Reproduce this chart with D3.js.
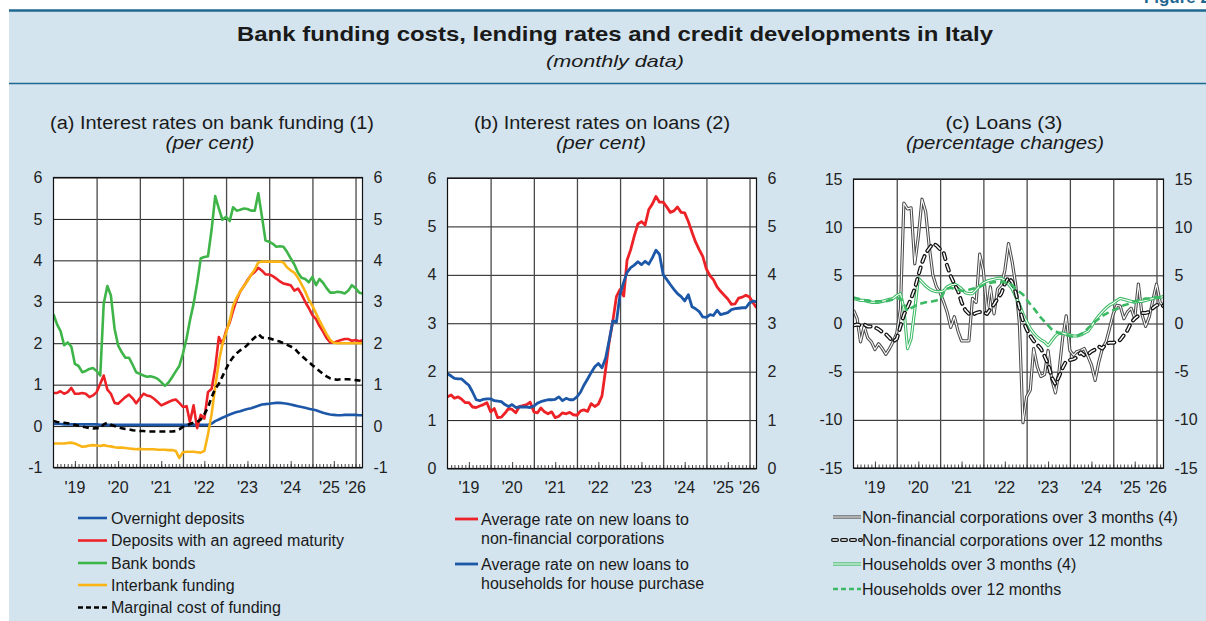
<!DOCTYPE html>
<html>
<head>
<meta charset="utf-8">
<script src="https://cdn.jsdelivr.net/npm/d3@7"></script>
<style>
  body { margin: 0; background: #ffffff; }
  svg { display: block; font-family: "Liberation Sans", Arial, Helvetica, sans-serif; }
</style>
</head>
<body>
<svg id="chart" width="1206" height="621"></svg>
<script>
// ---- Monthly observations, January 2019 onwards (one row per year) ----
const firstMonth = new Date(2019, 0, 1);
const lastMonth = new Date(2026, 2, 1);
const yearLabels = ["'19", "'20", "'21", "'22", "'23", "'24", "'25", "'26"];

// (a) Interest rates on bank funding, per cent
const overnightDeposits = [
  0.05, 0.05, 0.05, 0.04, 0.04, 0.04, 0.04, 0.04, 0.04, 0.04, 0.04, 0.04,
  0.04, 0.03, 0.03, 0.03, 0.03, 0.03, 0.03, 0.03, 0.03, 0.03, 0.03, 0.03,
  0.03, 0.03, 0.03, 0.03, 0.03, 0.03, 0.03, 0.03, 0.03, 0.03, 0.03, 0.03,
  0.03, 0.03, 0.03, 0.03, 0.03, 0.03, 0.03, 0.03, 0.06, 0.12, 0.16, 0.20,
  0.24, 0.28, 0.31, 0.34, 0.36, 0.39, 0.41, 0.43, 0.46, 0.49, 0.52, 0.53,
  0.54, 0.55, 0.56, 0.56, 0.55, 0.54, 0.52, 0.50, 0.48, 0.46, 0.44, 0.42,
  0.40, 0.38, 0.35, 0.32, 0.30, 0.28, 0.27, 0.26, 0.26, 0.27, 0.27, 0.27,
  0.27, 0.26, 0.26
];
const agreedMaturityDeposits = [
  0.80, 0.80, 0.84, 0.78, 0.82, 0.92, 0.78, 0.78, 0.80, 0.78, 0.70, 0.74,
  0.82, 1.02, 1.22, 0.88, 0.78, 0.56, 0.54, 0.62, 0.70, 0.76, 0.67, 0.55,
  0.67, 0.78, 0.74, 0.72, 0.66, 0.58, 0.50, 0.54, 0.58, 0.62, 0.64, 0.56,
  0.46, 0.48, 0.10, 0.50, -0.05, 0.27, 0.18, 0.82, 0.90, 1.40, 2.15, 1.98,
  2.30, 2.50, 2.78, 3.05, 3.25, 3.38, 3.52, 3.65, 3.72, 3.82, 3.75, 3.66,
  3.66, 3.62, 3.56, 3.49, 3.44, 3.42, 3.40, 3.27, 3.32, 3.18, 3.00, 2.85,
  2.68, 2.58, 2.42, 2.28, 2.12, 2.02, 2.01, 2.05, 2.08, 2.10, 2.10, 2.06,
  2.08, 2.05, 2.07
];
const bankBonds = [
  2.70, 2.45, 2.30, 1.95, 2.02, 1.92, 1.50, 1.45, 1.30, 1.33, 1.38, 1.40,
  1.33, 1.22, 2.95, 3.38, 3.15, 2.35, 1.95, 1.78, 1.65, 1.65, 1.48, 1.30,
  1.26, 1.22, 1.19, 1.20, 1.18, 1.14, 1.06, 0.97, 1.05, 1.18, 1.32, 1.45,
  1.75, 2.12, 2.55, 2.95, 3.45, 4.05, 4.08, 4.10, 4.75, 5.55, 5.25, 4.98,
  5.05, 4.95, 5.28, 5.20, 5.22, 5.25, 5.24, 5.20, 5.20, 5.62, 5.05, 4.48,
  4.45, 4.40, 4.33, 4.34, 4.33, 4.20, 4.05, 3.90, 3.70, 3.58, 3.55, 3.47,
  3.60, 3.40, 3.55, 3.46, 3.33, 3.22, 3.22, 3.24, 3.23, 3.20, 3.27, 3.40,
  3.33, 3.22, 3.20
];
const interbankFunding = [
  -0.42, -0.42, -0.42, -0.42, -0.41, -0.40, -0.42, -0.46, -0.50, -0.49, -0.47, -0.46,
  -0.47, -0.48, -0.46, -0.48, -0.49, -0.51, -0.52, -0.52, -0.53, -0.54, -0.55, -0.56,
  -0.55, -0.56, -0.56, -0.56, -0.56, -0.57, -0.57, -0.57, -0.58, -0.58, -0.60, -0.77,
  -0.63, -0.62, -0.62, -0.62, -0.63, -0.64, -0.60, -0.20, 0.30, 0.95, 1.55, 1.98,
  2.25, 2.55, 2.90, 3.10, 3.25, 3.38, 3.50, 3.65, 3.78, 3.95, 3.97, 3.97,
  3.97, 3.97, 3.97, 3.97, 3.95, 3.83, 3.76, 3.70, 3.58, 3.42, 3.25, 3.05,
  2.90, 2.72, 2.55, 2.38, 2.22, 2.08, 2.01, 2.00, 2.00, 2.00, 2.00, 2.00,
  2.00, 2.00, 2.00
];
const marginalCost = [
  0.12, 0.10, 0.09, 0.08, 0.07, 0.05, 0.03, 0.01, -0.01, -0.03, -0.05, -0.06,
  -0.05, -0.05, 0.04, 0.08, 0.03, 0.00, -0.03, -0.05, -0.07, -0.08, -0.10, -0.11,
  -0.12, -0.12, -0.13, -0.13, -0.13, -0.13, -0.13, -0.13, -0.13, -0.13, -0.12, -0.08,
  -0.02, 0.02, 0.05, 0.08, 0.10, 0.16, 0.28, 0.45, 0.70, 0.90, 1.02, 1.20,
  1.38, 1.55, 1.66, 1.76, 1.83, 1.88, 1.96, 2.06, 2.14, 2.22, 2.14, 2.12,
  2.12, 2.09, 2.06, 2.04, 2.00, 1.96, 1.92, 1.88, 1.78, 1.70, 1.62, 1.55,
  1.47, 1.40, 1.33, 1.26, 1.20, 1.15, 1.13, 1.12, 1.13, 1.13, 1.13, 1.12,
  1.11, 1.10, 1.08
];

// (b) Interest rates on loans, per cent
const nfcLoanRate = [
  1.48, 1.52, 1.45, 1.48, 1.43, 1.36, 1.36, 1.27, 1.26, 1.29, 1.32, 1.36,
  1.17, 1.24, 1.05, 1.06, 1.14, 1.24, 1.22, 1.15, 1.28, 1.30, 1.32, 1.37,
  1.17, 1.15, 1.25, 1.17, 1.13, 1.17, 1.05, 1.08, 1.15, 1.13, 1.16, 1.11,
  1.10, 1.19, 1.21, 1.18, 1.34, 1.28, 1.33, 1.50, 2.05, 2.62, 3.05, 3.55,
  3.70, 3.56, 4.30, 4.52, 4.80, 5.05, 5.10, 5.03, 5.35, 5.46, 5.62, 5.50,
  5.50, 5.40, 5.29, 5.32, 5.40, 5.29, 5.28, 5.10, 4.88, 4.68, 4.52, 4.38,
  4.12, 3.98, 3.90, 3.75, 3.66, 3.58, 3.50, 3.39, 3.40, 3.52, 3.54, 3.58,
  3.54, 3.42, 3.32
];
const housePurchaseRate = [
  1.96, 1.91, 1.86, 1.85, 1.85, 1.78, 1.72, 1.58, 1.42, 1.40, 1.43, 1.44,
  1.44, 1.40, 1.39, 1.38, 1.32, 1.28, 1.32, 1.26, 1.27, 1.27, 1.27, 1.26,
  1.29, 1.35, 1.38, 1.40, 1.42, 1.42, 1.43, 1.48, 1.40, 1.45, 1.42, 1.42,
  1.48, 1.58, 1.72, 1.85, 1.98, 2.10, 2.17, 2.08, 2.28, 2.65, 3.05, 3.02,
  3.60, 3.85, 4.05, 4.15, 4.20, 4.27, 4.21, 4.28, 4.22, 4.35, 4.51, 4.42,
  4.00, 3.90, 3.80, 3.70, 3.61, 3.55, 3.46, 3.59, 3.34, 3.30, 3.24, 3.13,
  3.12, 3.18, 3.16, 3.27, 3.18, 3.20, 3.22, 3.28, 3.30, 3.31, 3.32, 3.32,
  3.42, 3.46, 3.44
];

// (c) Loans, percentage changes
const nfc3m = [
  1.4, 0.5, -1.9, -0.3, -1.5, -1.9, -2.7, -2.1, -2.6, -3.2, -2.6, -1.9,
  -1.0, 1.5, 12.5, 11.9, 12.0, 6.2, 9.0, 12.9, 11.6, 8.0, 5.0, 3.8,
  3.2, 2.2, 1.2, -0.4, 0.7, -0.8, -1.8, -1.8, -1.8, 2.6, 2.2, 7.2,
  5.5, 1.0, 3.8, 1.0, 3.6, 4.0, 5.5, 8.3, 6.4, 4.0, 0.0, -10.3,
  -7.6, -6.9, -2.6, -4.5, -5.5, -5.3, -2.8, -5.8, -7.2, -5.0, -1.5, 0.8,
  -2.8, -3.3, -2.9, -2.8, -2.6, -3.4, -4.3, -5.9, -4.0, -2.6, -1.9, -0.5,
  1.0, 1.9, 1.8, 0.5, 1.2, 1.6, 0.5, 4.1, 0.9, -0.3, 0.7, 2.4,
  4.1, 2.2, 1.8
];
const nfc12m = [
  -0.2, -0.1, -0.2, -0.1, -0.3, -0.3, -0.4, -0.6, -0.9, -1.1, -1.5, -1.9,
  -1.6, -0.3, 0.9, 1.7, 2.6, 3.6, 5.0, 6.3, 7.3, 7.8, 8.3, 8.1,
  7.7, 7.3, 6.0, 4.9, 4.1, 3.4, 2.2, 1.4, 1.0, 0.9, 1.1, 1.2,
  1.2, 1.0, 1.5, 2.0, 2.6, 3.1, 4.1, 4.8, 4.3, 3.2, 1.6, 0.3,
  -0.6, -1.3, -1.8, -2.2, -2.6, -3.4, -4.2, -5.6, -6.3, -5.5, -4.6, -3.9,
  -3.8, -3.7, -3.5, -3.0, -3.3, -3.2, -2.9, -2.7, -2.4, -2.6, -2.1, -2.0,
  -2.0, -1.9, -1.7, -1.2, -0.7, 0.1, 0.5, 0.8, 1.1, 1.1, 1.2, 1.6,
  1.9, 2.0, 1.8
];
const households3m = [
  2.6, 2.5, 2.4, 2.4, 2.3, 2.2, 2.2, 2.2, 2.3, 2.4, 2.5, 2.6,
  2.9, 3.1, 1.6, -2.6, -1.6, 1.4, 4.7, 4.3, 3.9, 3.6, 3.4, 3.3,
  3.3, 3.4, 3.8, 4.0, 4.1, 3.9, 3.6, 3.2, 3.1, 3.1, 3.5, 3.9,
  4.2, 4.4, 4.5, 4.6, 4.7, 4.7, 4.5, 4.1, 3.6, 2.8, 2.0, 1.0,
  0.2, -0.5, -1.0, -1.4, -1.7, -1.9, -2.3, -1.8, -1.3, -1.0, -1.0, -1.1,
  -1.2, -1.3, -1.3, -1.2, -1.0, -0.8, -0.3, 0.3, 0.8, 1.2, 1.6, 1.9,
  2.1, 2.4, 2.6, 2.5, 2.4, 2.3, 2.2, 2.3, 2.3, 2.4, 2.5, 2.6,
  2.7, 2.7, 2.8
];
const households12m = [
  2.7, 2.6, 2.5, 2.4, 2.4, 2.3, 2.3, 2.3, 2.3, 2.3, 2.4, 2.5,
  2.6, 2.6, 2.0, 1.3, 1.6, 1.8, 2.0, 2.1, 2.2, 2.2, 2.3, 2.4,
  2.5, 3.2, 3.6, 3.7, 3.6, 3.5, 3.4, 3.4, 3.5, 3.6, 3.7, 3.8,
  4.0, 4.1, 4.2, 4.3, 4.3, 4.3, 4.3, 4.1, 4.0, 3.6, 3.3, 3.0,
  2.5, 2.0, 1.6, 1.1, 0.6, 0.2, -0.2, -0.6, -0.8, -1.0, -1.1, -1.2,
  -1.3, -1.4, -1.3, -1.1, -0.9, -0.5, -0.2, 0.2, 0.5, 0.8, 1.0, 1.2,
  1.4, 1.5, 1.7, 1.9, 2.0, 2.2, 2.3, 2.4, 2.5, 2.6, 2.6, 2.7,
  2.7, 2.7, 2.7
];

// ---- Styles ----
const BG = "#d3e4ef";
const RULE = "#1f6891";
const BLUE = "#1d57a7";
const RED = "#ec2227";
const GREEN = "#3fb549";
const YELLOW = "#fbb416";
const HH_GREEN = "#3cb964";
const TEXT = "#1a1a1a";

const W = 1206, H = 621;
const svg = d3.select("#chart");

// text with a fixed rendered width, stretched like the printed headings
function fittedText(parent, x, y, size, width, str, opts = {}) {
  return parent.append("text").attr("x", x).attr("y", y).attr("text-anchor", "middle")
    .attr("font-size", size).attr("font-weight", opts.bold ? "bold" : null)
    .attr("font-style", opts.italic ? "italic" : null).attr("fill", TEXT)
    .attr("textLength", width).attr("lengthAdjust", "spacingAndGlyphs").text(str);
}

// page background and rules
svg.append("rect").attr("x", 9).attr("y", 10).attr("width", W - 9).attr("height", H - 10).attr("fill", BG);
svg.append("line").attr("x1", 9).attr("x2", W).attr("y1", 10.5).attr("y2", 10.5)
  .attr("stroke", RULE).attr("stroke-width", 2.5);
svg.append("line").attr("x1", 9).attr("x2", W).attr("y1", 83.5).attr("y2", 83.5)
  .attr("stroke", RULE).attr("stroke-width", 1.5);
svg.append("text").attr("x", 1210).attr("y", 3).attr("text-anchor", "end")
  .attr("font-size", 17).attr("font-weight", "bold").attr("fill", RULE).text("Figure 2");

// headings
fittedText(svg, 615, 41, 21, 756, "Bank funding costs, lending rates and credit developments in Italy", { bold: true });
fittedText(svg, 615, 67, 17, 138, "(monthly data)", { italic: true });

const monthDate = i => d3.timeMonth.offset(firstMonth, i);
const intLabel = d => String(d);

function drawPanel(cfg) {
  const g = svg.append("g");
  const x = d3.scaleTime().domain([firstMonth, lastMonth]).range([cfg.x0, cfg.x1]);
  const y = d3.scaleLinear().domain(cfg.domain).range([cfg.yBot, cfg.yTop]);
  const plotW = cfg.x1 - cfg.x0, plotH = cfg.yBot - cfg.yTop;

  // titles
  fittedText(g, cfg.titleX, 129, 18, cfg.titleW, cfg.title);
  fittedText(g, cfg.subX, 149, 18, cfg.subW, cfg.subtitle, { italic: true });

  // plot area
  g.append("rect").attr("x", cfg.x0).attr("y", cfg.yTop).attr("width", plotW).attr("height", plotH)
    .attr("fill", "#ffffff");

  // horizontal grid
  g.append("g").attr("transform", `translate(${cfg.x0},0)`)
    .call(d3.axisLeft(y).tickValues(cfg.ticks).tickSize(-plotW).tickFormat(""))
    .call(a => a.select(".domain").remove())
    .call(a => a.selectAll("line").attr("stroke", "#1c1c1c").attr("stroke-width", 1));

  // yearly vertical grid
  const years = d3.timeYear.range(new Date(2020, 0, 1), new Date(2026, 0, 2));
  g.append("g").attr("transform", `translate(0,${cfg.yBot})`)
    .call(d3.axisBottom(x).tickValues(years).tickSize(-plotH).tickFormat(""))
    .call(a => a.select(".domain").remove())
    .call(a => a.selectAll("line").attr("stroke", "#4a4a4a").attr("stroke-width", 1.3));

  // monthly ticks, longer at mid-year
  const months = d3.timeMonth.range(d3.timeMonth.offset(firstMonth, 1), lastMonth);
  g.append("g").attr("transform", `translate(0,${cfg.yBot})`)
    .call(d3.axisBottom(x).tickValues(months).tickSize(-3.5).tickFormat(""))
    .call(a => a.select(".domain").remove())
    .call(a => a.selectAll("line").attr("stroke", "#333").attr("stroke-width", 0.9));
  const julys = months.filter(d => d.getMonth() === 6);
  g.append("g").attr("transform", `translate(0,${cfg.yBot})`)
    .call(d3.axisBottom(x).tickValues(julys).tickSize(-6.5).tickFormat(""))
    .call(a => a.select(".domain").remove())
    .call(a => a.selectAll("line").attr("stroke", "#333").attr("stroke-width", 0.9));

  // y labels on both sides
  const styleLabels = a => a.selectAll("text").attr("font-size", 16).attr("fill", "#222")
    .attr("font-family", '"Liberation Sans", Arial, sans-serif');
  g.append("g").attr("transform", `translate(${cfg.x0},0)`)
    .call(d3.axisLeft(y).tickValues(cfg.ticks).tickSize(0).tickPadding(11).tickFormat(intLabel))
    .call(a => a.select(".domain").remove())
    .call(styleLabels);
  g.append("g").attr("transform", `translate(${cfg.x1},0)`)
    .call(d3.axisRight(y).tickValues(cfg.ticks).tickSize(0).tickPadding(11).tickFormat(intLabel))
    .call(a => a.select(".domain").remove())
    .call(styleLabels);

  // year labels: mid-year, the partial final year at its start, the one before nudged left
  const labelX = yearLabels.map((t, k) => x(new Date(2019 + k, 6, 1)));
  const n = yearLabels.length;
  labelX[n - 1] = x(new Date(2019 + n - 1, 0, 1));
  labelX[n - 2] = Math.min(labelX[n - 2], labelX[n - 1] - 26);
  g.selectAll(null).data(yearLabels).join("text")
    .attr("x", (d, k) => labelX[k]).attr("y", 493).attr("text-anchor", "middle")
    .attr("font-size", 16).attr("fill", "#222").text(d => d);

  // series
  const clipId = "clip" + cfg.id;
  svg.append("clipPath").attr("id", clipId).append("rect")
    .attr("x", cfg.x0).attr("y", cfg.yTop - 2).attr("width", plotW).attr("height", plotH + 4);
  const lines = g.append("g").attr("clip-path", `url(#${clipId})`);
  const line = d3.line().x((d, i) => x(monthDate(i))).y(d => y(d)).curve(d3.curveLinear);
  cfg.series.forEach(s => {
    s.layers.forEach(l => {
      lines.append("path").datum(s.values).attr("d", line)
        .attr("fill", "none").attr("stroke", l.color).attr("stroke-width", l.width)
        .attr("stroke-dasharray", l.dash || null)
        .attr("stroke-linecap", l.cap || "butt").attr("stroke-linejoin", "round");
    });
  });

  // frame
  g.append("rect").attr("x", cfg.x0).attr("y", cfg.yTop).attr("width", plotW).attr("height", plotH)
    .attr("fill", "none").attr("stroke", "#111").attr("stroke-width", 1.2);

  // legend
  const lg = g.append("g");
  cfg.series.forEach(s => {
    s.layers.forEach(l => {
      lg.append("line").attr("x1", cfg.legendX0).attr("x2", cfg.legendX1)
        .attr("y1", s.legendY).attr("y2", s.legendY)
        .attr("stroke", l.color).attr("stroke-width", l.width)
        .attr("stroke-dasharray", l.legendDash || l.dash || null)
        .attr("stroke-linecap", l.cap || "butt");
    });
    s.label.forEach((t, k) => {
      lg.append("text").attr("x", cfg.legendText).attr("y", s.legendY + 5.5 + k * 19.5)
        .attr("font-size", 16).attr("fill", TEXT).text(t);
    });
  });
}

const solid = (color, width) => [{ color, width }];
const dashed = (color, width, dash, legendDash) => [{ color, width, dash, legendDash }];
const double = (color) => [{ color, width: 3.2 }, { color: "#ffffff", width: 1.1 }];

drawPanel({
  id: "a", x0: 53.5, x1: 362.5, yTop: 177.5, yBot: 467.5, domain: [-1, 6],
  ticks: [-1, 0, 1, 2, 3, 4, 5, 6],
  title: "(a) Interest rates on bank funding (1)", titleX: 212, titleW: 324,
  subtitle: "(per cent)", subX: 210, subW: 89,
  legendX0: 78, legendX1: 107, legendText: 111,
  series: [
    { values: overnightDeposits, layers: solid(BLUE, 2.6), label: ["Overnight deposits"], legendY: 518 },
    { values: agreedMaturityDeposits, layers: solid(RED, 2.6), label: ["Deposits with an agreed maturity"], legendY: 540.5 },
    { values: bankBonds, layers: solid(GREEN, 2.6), label: ["Bank bonds"], legendY: 563 },
    { values: interbankFunding, layers: solid(YELLOW, 2.6), label: ["Interbank funding"], legendY: 585 },
    { values: marginalCost, layers: dashed("#000000", 2.6, "6,4", "5,3"), label: ["Marginal cost of funding"], legendY: 607.5 }
  ]
});

drawPanel({
  id: "b", x0: 447.5, x1: 756.5, yTop: 178, yBot: 468.5, domain: [0, 6],
  ticks: [0, 1, 2, 3, 4, 5, 6],
  title: "(b) Interest rates on loans (2)", titleX: 602, titleW: 256,
  subtitle: "(per cent)", subX: 601, subW: 90,
  legendX0: 455, legendX1: 478, legendText: 481,
  series: [
    { values: nfcLoanRate, layers: solid(RED, 2.8), label: ["Average rate on new loans to", "non-financial corporations"], legendY: 519 },
    { values: housePurchaseRate, layers: solid(BLUE, 2.8), label: ["Average rate on new loans to", "households for house purchase"], legendY: 564 }
  ]
});

drawPanel({
  id: "c", x0: 853.5, x1: 1163.5, yTop: 179, yBot: 468, domain: [-15, 15],
  ticks: [-15, -10, -5, 0, 5, 10, 15],
  title: "(c) Loans (3)", titleX: 1004, titleW: 117,
  subtitle: "(percentage changes)", subX: 1005, subW: 198,
  legendX0: 833, legendX1: 861, legendText: 862,
  series: [
    { values: nfc3m, layers: double("#4d4d4d"), label: ["Non-financial corporations over 3 months (4)"], legendY: 517 },
    { values: households3m, layers: double(HH_GREEN), label: ["Households over 3 months (4)"], legendY: 564 },
    { values: nfc12m,
      layers: [{ color: "#111111", width: 4, dash: "6,6", cap: "round", legendDash: "4,5" },
               { color: "#ffffff", width: 1.5, dash: "6,6", cap: "round", legendDash: "4,5" }],
      label: ["Non-financial corporations over 12 months"], legendY: 540 },
    { values: households12m, layers: dashed(HH_GREEN, 2.6, "7,4", "5,3"), label: ["Households over 12 months"], legendY: 589 }
  ]
});
</script>
</body>
</html>
